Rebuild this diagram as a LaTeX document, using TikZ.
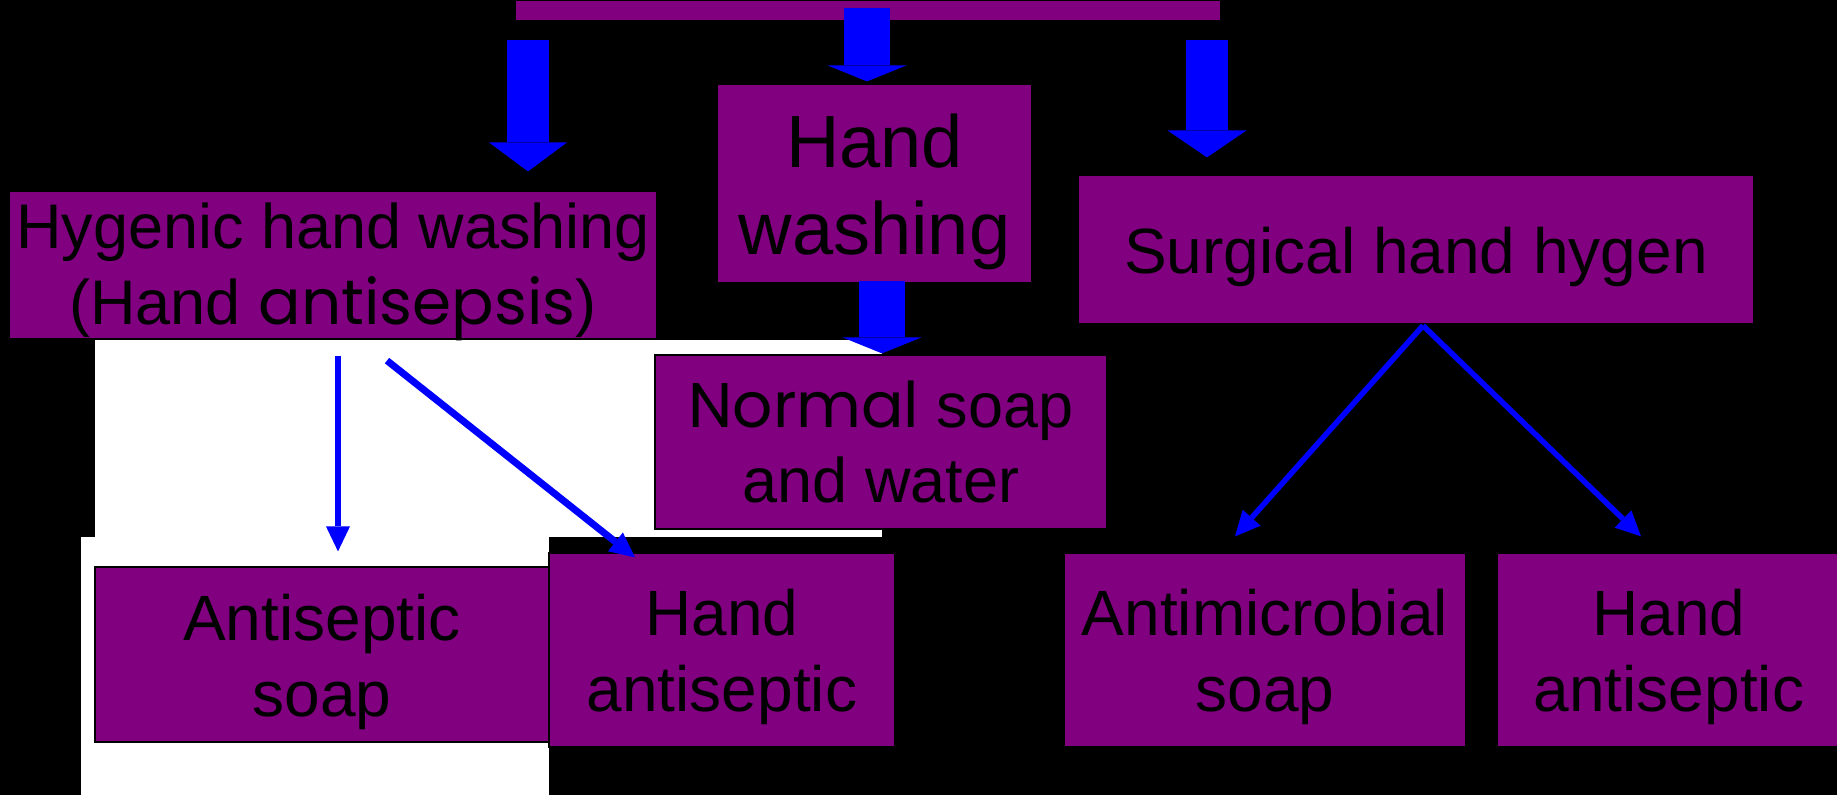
\documentclass[tikz,border=0pt]{standalone}
\usepackage{fontspec}
\setmainfont{Liberation Sans}
\newfontfamily\comicfont{Poppins}
\usetikzlibrary{arrows.meta}
\definecolor{boxpurple}{RGB}{128,0,128}
\definecolor{arrowblue}{RGB}{0,0,255}
\newcommand{\lift}{\rule{0pt}{0.95em}}

\begin{document}
\begin{tikzpicture}[
    x=1pt, y=-1pt,
    bar/.style={rectangle, draw=black, line width=1.2pt, fill=boxpurple, inner sep=0pt},
    box/.style={bar, align=center, font=\fontsize{64}{76}\selectfont},
    bigarrow/.style={arrowblue, line width=42pt, -{Triangle[width=78pt, length=29pt, line width=0pt]}},
    flatarrow/.style={arrowblue, line width=46pt, -{Triangle[width=79pt, length=16pt, line width=0pt]}},
    thinarrow/.style={arrowblue, line width=5.5pt, -{Triangle[width=24pt, length=25pt, line width=0pt]}}
]
\useasboundingbox (0,0) rectangle (1837,795);
\fill[black] (0,0) rectangle (1837,795);
\fill[white] (95,340) rectangle (882,537);
\fill[white] (81,537) rectangle (549,795);

% ---- nodes ----
\node[bar, minimum width=706pt, minimum height=21pt] (root) at (868,10.5) {};
\node[box, inner ysep=-4pt, minimum width=648pt, minimum height=148pt, font=\fontsize{63}{76}\selectfont] (hyg) at (333,265) {\lift Hygenic hand washing\\(Hand {\comicfont antisepsis})};
\node[box, minimum width=315pt, minimum height=199pt, font=\fontsize{74}{87}\selectfont] (hw) at (874.5,183.5) {\lift Hand\\washing};
\node[box, minimum width=676pt, minimum height=149pt] (surg) at (1416,249.5) {\lift Surgical hand hygen};
\node[box, minimum width=452pt, minimum height=174pt, font=\fontsize{63}{75}\selectfont] (normal) at (881,442) {{\comicfont Normal} soap\\and water};
\node[box, minimum width=454pt, minimum height=175pt] (asoap) at (322,654.5) {\lift Antiseptic\\soap};
\node[box, minimum width=346pt, minimum height=194pt] (hantiL) at (722,650) {\lift Hand\\antiseptic};
\node[box, minimum width=402pt, minimum height=194pt] (amicro) at (1265,650) {\lift Antimicrobial\\soap};
\node[box, minimum width=344pt, minimum height=194pt] (hantiR) at (1669,650) {\lift Hand\\antiseptic};

% ---- arrows ----
\draw[bigarrow] ([xshift=-340pt,yshift=-18pt]root.south) -- ([xshift=195pt,yshift=19pt]hyg.north);
\draw[flatarrow] ([xshift=-1pt,yshift=14pt]root.south) -- ([xshift=-7.5pt,yshift=2pt]hw.north);
\draw[bigarrow, -{Triangle[width=79pt, length=27pt, line width=0pt]}] ([xshift=339pt,yshift=-18pt]root.south) -- ([xshift=-209pt,yshift=17pt]surg.north);
\draw[flatarrow] ([xshift=7.5pt,yshift=3pt]hw.south) -- ([xshift=1pt,yshift=1pt]normal.north);

\draw[thinarrow] ([xshift=5pt,yshift=-16pt]hyg.south) -- ([xshift=16pt,yshift=15pt]asoap.north);
\draw[thinarrow, line width=7pt] ([xshift=54pt,yshift=-21pt]hyg.south) -- ([xshift=-87pt,yshift=-5pt]hantiL.north);
\draw[thinarrow] ([xshift=7pt,yshift=-1pt]surg.south) -- ([xshift=-30pt,yshift=16pt]amicro.north);
\draw[thinarrow] ([xshift=7pt,yshift=-1pt]surg.south) -- ([xshift=-28pt,yshift=16pt]hantiR.north);

\end{tikzpicture}
\end{document}
